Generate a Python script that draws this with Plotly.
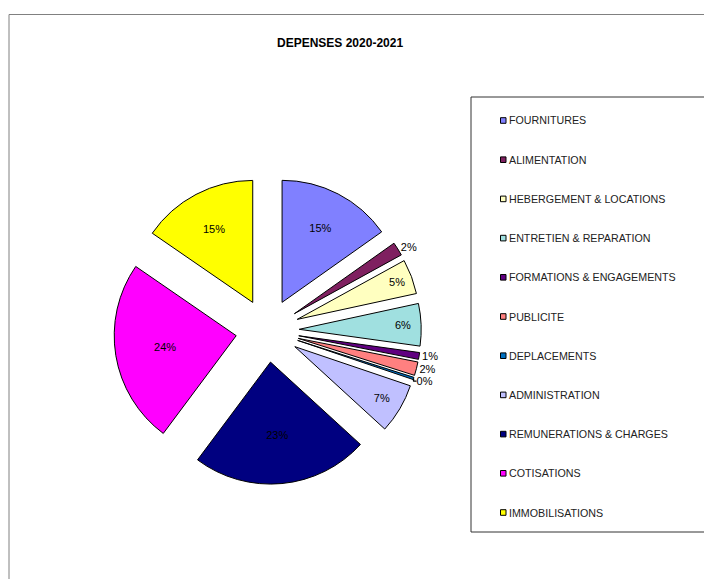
import plotly.graph_objects as go

W, H = 712, 579
OFF = 8  # default page body margin
FW, FH = W - OFF, H - OFF

categories = ["FOURNITURES", "ALIMENTATION", "HEBERGEMENT & LOCATIONS",
              "ENTRETIEN & REPARATION", "FORMATIONS & ENGAGEMENTS", "PUBLICITE",
              "DEPLACEMENTS", "ADMINISTRATION", "REMUNERATIONS & CHARGES",
              "COTISATIONS", "IMMOBILISATIONS"]
values = [15.2, 1.8, 4.6, 5.6, 0.9, 1.8, 0.3, 6.6, 23.4, 24.4, 15.4]
colors = ["#8080FF", "#7F2060", "#FFFFC0", "#A0E0E0", "#600080", "#FF8080",
          "#0070C0", "#C0C0FF", "#000080", "#FF00FF", "#FFFF00"]
text_pos = ["inside", "outside", "inside", "inside", "outside", "outside",
            "outside", "inside", "inside", "inside", "inside"]
title_text = "DEPENSES 2020-2021"


def px(x):
    return (x - OFF) / FW


def py(y):
    return 1 - (y - OFF) / FH


pull = 0.26
cx, cy, r = 267.5, 330.5, 122
R = r * (1 + pull)

fig = go.Figure(go.Pie(
    labels=categories,
    values=values,
    sort=False,
    direction="clockwise",
    rotation=0,
    pull=[pull] * len(values),
    marker=dict(colors=colors, line=dict(color="black", width=1)),
    texttemplate="%{percent:.0%}",
    textposition=text_pos,
    insidetextorientation="horizontal",
    textfont=dict(family="Liberation Sans, Arial", size=11, color="black"),
    outsidetextfont=dict(family="Liberation Sans, Arial", size=11, color="black"),
    insidetextfont=dict(family="Liberation Sans, Arial", size=11, color="black"),
    domain=dict(x=[px(cx - R), px(cx + R)], y=[py(cy + R), py(cy - R)]),
    showlegend=False,
    hoverinfo="label+percent",
))

shapes = []
annotations = []

# chart-area border
shapes.append(dict(type="rect", xref="paper", yref="paper",
                   x0=px(9), x1=px(730), y0=py(600), y1=py(14.5),
                   line=dict(color="#808080", width=1)))
# legend box
shapes.append(dict(type="rect", xref="paper", yref="paper",
                   x0=px(471), x1=px(730), y0=py(532), y1=py(97),
                   line=dict(color="#333333", width=1)))

y0, dy = 120.5, 39.2
for i, (cat, col) in enumerate(zip(categories, colors)):
    yc = y0 + i * dy
    shapes.append(dict(type="rect", xref="paper", yref="paper",
                       x0=px(500.5), x1=px(506), y0=py(yc + 2.8), y1=py(yc - 2.8),
                       fillcolor=col, line=dict(color="black", width=1)))
    annotations.append(dict(text=cat, xref="paper", yref="paper",
                            x=px(506.5), y=py(yc), xanchor="left", yanchor="middle",
                            showarrow=False,
                            font=dict(family="Liberation Sans, Arial", size=10.7,
                                      color="#222222")))

annotations.append(dict(text="<b>" + title_text + "</b>", xref="paper", yref="paper",
                        x=px(339.5), y=py(43.5), xanchor="center", yanchor="middle",
                        showarrow=False,
                        font=dict(family="Liberation Sans, Arial", size=12,
                                  color="black")))

fig.update_layout(
    width=FW, height=FH,
    margin=dict(l=0, r=0, t=0, b=0),
    paper_bgcolor="white",
    plot_bgcolor="white",
    shapes=shapes,
    annotations=annotations,
)

fig.write_html("out.html")
